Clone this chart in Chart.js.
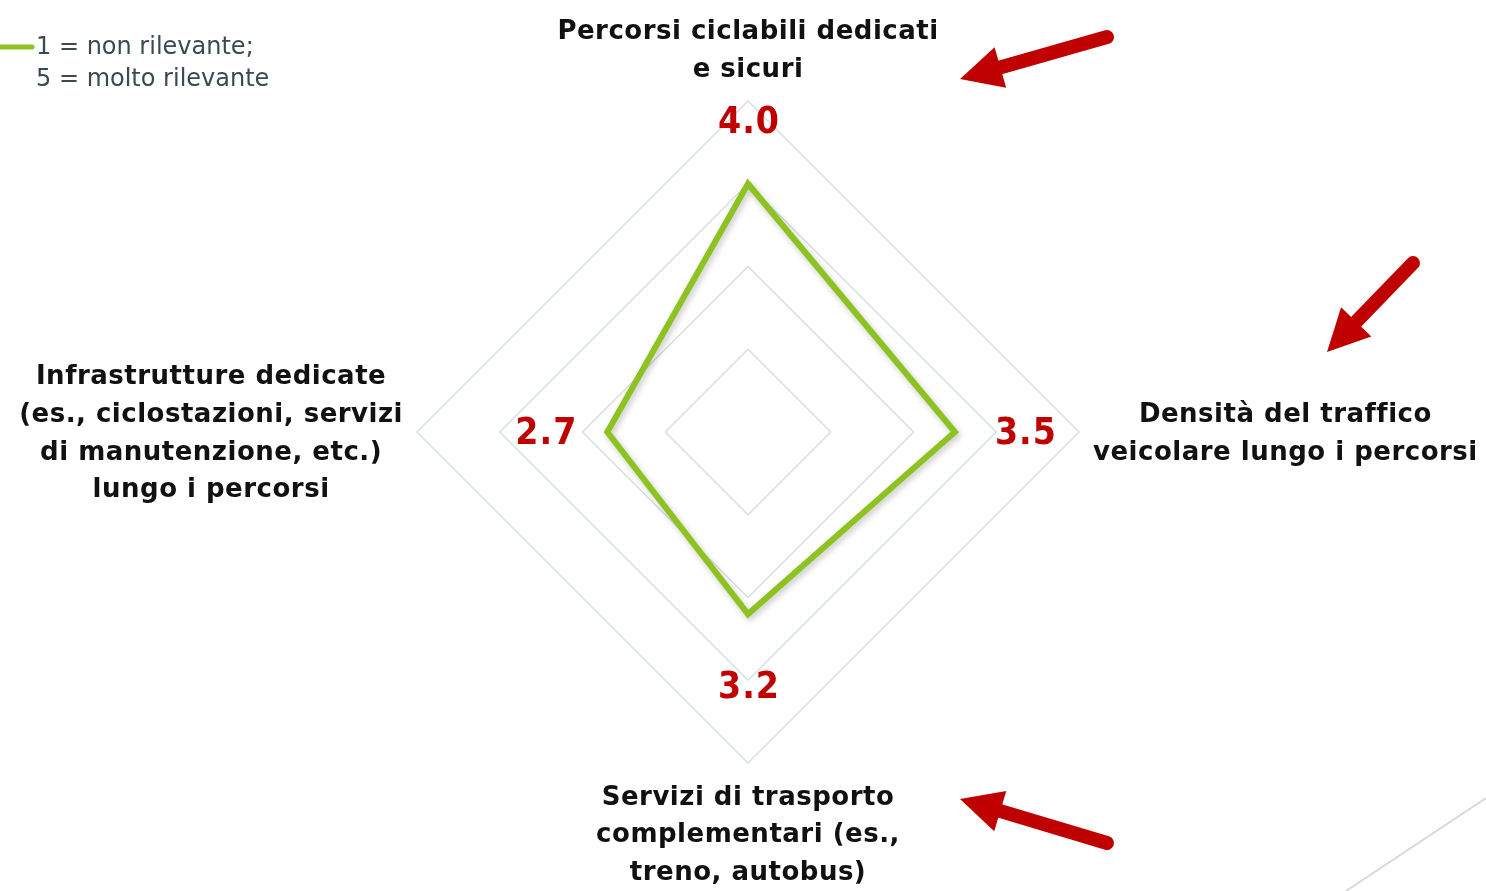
<!DOCTYPE html>
<html>
<head>
<meta charset="utf-8">
<script src="https://cdn.jsdelivr.net/npm/chart.js@4.4.1/dist/chart.umd.min.js"></script>
<style>
    html, body { margin: 0; padding: 0; background: #ffffff; }
    #wrap { width: 1486px; height: 891px; }
</style>
</head>
<body>
<div id="wrap"><canvas id="radarChart" width="1486" height="891"></canvas></div>
<script>
// Chart data
const categories = [
    ['Percorsi ciclabili dedicati', 'e sicuri'],
    ['Densità del traffico', 'veicolare lungo i percorsi'],
    ['Servizi di trasporto', 'complementari (es.,', 'treno, autobus)'],
    ['Infrastrutture dedicate', '(es., ciclostazioni, servizi', 'di manutenzione, etc.)', 'lungo i percorsi']
];
const scores = [4.0, 3.5, 3.2, 2.7];
const scaleMin = 1;
const scaleMax = 5;
const scaleStep = 1;
const legendLines = ['1 = non rilevante;', '5 = molto rilevante'];

// Layout / styling
const FONT = "'DejaVu Sans', sans-serif";
const FONT_NARROW = "'DejaVu Sans Condensed', 'DejaVu Sans', sans-serif";
const GREEN = '#8cc320';
const RED = '#c00000';
const labelGap = 14;
const valueLabelGap = [62, 70, 72, 62];
// annotation arrows: tail x, tail y, tip x, tip y
const arrows = [
    [1107, 37, 960, 79],
    [1413, 263, 1327, 352],
    [1107, 843, 960, 799]
];

function drawArrow(ctx, a) {
    const [tx, ty, hx, hy] = a;
    const dx = hx - tx, dy = hy - ty;
    const len = Math.hypot(dx, dy);
    const ux = dx / len, uy = dy / len;
    const nx = -uy, ny = ux;
    const headLen = 42, headHalf = 21;
    const bx = hx - ux * headLen, by = hy - uy * headLen;

    ctx.strokeStyle = RED;
    ctx.fillStyle = RED;
    ctx.lineWidth = 14;
    ctx.lineCap = 'round';
    ctx.beginPath();
    ctx.moveTo(tx, ty);
    ctx.lineTo(bx + ux * 4, by + uy * 4);
    ctx.stroke();

    ctx.beginPath();
    ctx.moveTo(hx, hy);
    ctx.lineTo(bx + nx * headHalf, by + ny * headHalf);
    ctx.lineTo(bx - nx * headHalf, by - ny * headHalf);
    ctx.closePath();
    ctx.fill();
}

// soft shadow under the data line
const lineShadow = {
    id: 'lineShadow',
    beforeDatasetsDraw(chart) {
        const ctx = chart.ctx;
        ctx.save();
        ctx.shadowColor = 'rgba(0, 0, 0, 0.22)';
        ctx.shadowBlur = 6;
        ctx.shadowOffsetX = 2;
        ctx.shadowOffsetY = 3;
    },
    afterDatasetsDraw(chart) {
        chart.ctx.restore();
    }
};

// axis labels, value labels, legend and arrows
const annotations = {
    id: 'annotations',
    afterDraw(chart) {
        const ctx = chart.ctx;
        const r = chart.scales.r;
        ctx.save();

        // category labels
        ctx.font = 'bold 26px ' + FONT;
        ctx.letterSpacing = '0.5px';
        ctx.fillStyle = '#111111';
        ctx.textAlign = 'center';
        ctx.textBaseline = 'middle';
        const lh = 37.7;
        categories.forEach((lines, i) => {
            const p = r.getPointPosition(i, r.drawingArea + labelGap);
            const w = Math.max(...lines.map(l => ctx.measureText(l).width));
            const h = lines.length * lh;
            const ang = r.getIndexAngle(i);
            let cx = p.x, cy = p.y;
            if (Math.abs(Math.sin(ang)) > 0.5) cx += Math.sign(Math.sin(ang)) * w / 2;
            if (Math.abs(Math.cos(ang)) > 0.5) cy -= Math.sign(Math.cos(ang)) * h / 2;
            lines.forEach((l, k) => ctx.fillText(l, cx, cy - h / 2 + lh * (k + 0.5) + 2));
        });

        // value labels
        ctx.font = 'bold 37px ' + FONT_NARROW;
        ctx.letterSpacing = '1px';
        ctx.fillStyle = RED;
        scores.forEach((v, i) => {
            const p = r.getPointPosition(i, r.getDistanceFromCenterForValue(v) + valueLabelGap[i]);
            ctx.fillText(v.toFixed(1), p.x + 1, p.y + 2);
        });

        // legend
        ctx.strokeStyle = GREEN;
        ctx.lineWidth = 5;
        ctx.lineCap = 'round';
        ctx.beginPath();
        ctx.moveTo(-4, 47);
        ctx.lineTo(32, 47);
        ctx.stroke();
        ctx.font = '24px ' + FONT;
        ctx.letterSpacing = '0px';
        ctx.fillStyle = '#3a4a50';
        ctx.textAlign = 'left';
        legendLines.forEach((t, k) => ctx.fillText(t, 36, 48 + k * 32));

        // arrows
        arrows.forEach(a => drawArrow(ctx, a));

        // decorative line bottom right
        ctx.strokeStyle = '#d9d9d9';
        ctx.lineWidth = 2;
        ctx.lineCap = 'butt';
        ctx.beginPath();
        ctx.moveTo(1346, 891);
        ctx.lineTo(1486, 798);
        ctx.stroke();

        ctx.restore();
    }
};

const ctx = document.getElementById('radarChart').getContext('2d');
new Chart(ctx, {
    type: 'radar',
    data: {
        labels: categories,
        datasets: [{
            label: legendLines.join(' '),
            data: scores,
            borderColor: GREEN,
            backgroundColor: 'transparent',
            borderWidth: 6,
            borderJoinStyle: 'miter',
            pointRadius: 0,
            pointHoverRadius: 0,
            fill: false
        }]
    },
    options: {
        responsive: false,
        animation: false,
        layout: {
            padding: { top: 101, bottom: 128, left: 100, right: 90 }
        },
        plugins: {
            legend: { display: false },
            tooltip: { enabled: false }
        },
        scales: {
            r: {
                min: scaleMin,
                max: scaleMax,
                ticks: { stepSize: scaleStep, display: false },
                grid: { color: '#d5e0e1', lineWidth: 1.5 },
                angleLines: { display: false },
                pointLabels: { display: false }
            }
        }
    },
    plugins: [lineShadow, annotations]
});
</script>
</body>
</html>
